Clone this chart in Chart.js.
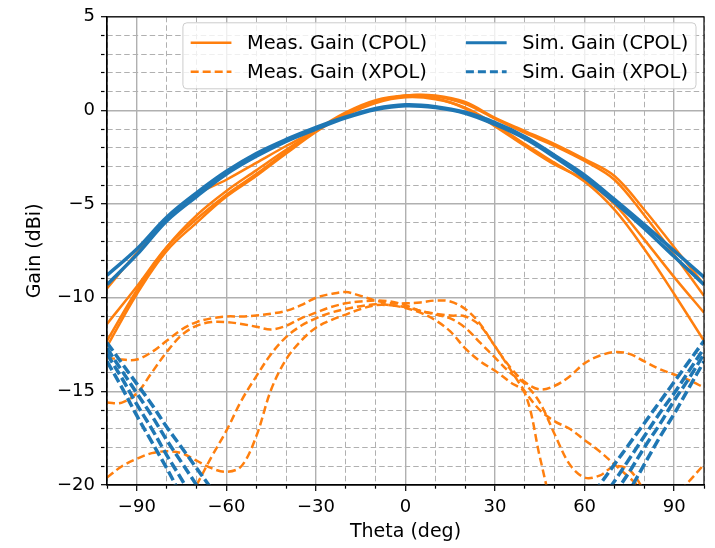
<!DOCTYPE html>
<html>
<head>
<meta charset="utf-8">
<script src="https://cdn.jsdelivr.net/npm/chart.js@4.4.1/dist/chart.umd.min.js"></script>
<style>
  html, body { margin: 0; padding: 0; background: #fff; }
  canvas { display: block; }
</style>
</head>
<body>
<canvas id="c" width="715" height="548"></canvas>
<script>
// ---- data
const THETA_10 = [-100, -90, -80, -70, -60, -50, -40, -30, -20, -10, 0, 10, 20, 30, 40, 50, 60, 70, 80, 90, 100];
const THETA_5 = [-100, -95, -90, -85, -80, -75, -70, -65, -60, -55, -50, -45, -40, -35, -30, -25, -20, -15, -10, -5,
                 0, 5, 10, 15, 20, 25, 30, 35, 40, 45, 50, 55, 60, 65, 70, 75, 80, 85, 90, 95, 100];
const SIMX_THETA_L = [-100, -95, -90, -85, -80, -75, -70, -65, -60];
const SIMX_THETA_R = [55, 60, 65, 70, 75, 80, 85, 90, 95, 100];

const X_TICKS = [-100, -90, -80, -70, -60, -50, -40, -30, -20, -10, 0, 10, 20, 30, 40, 50, 60, 70, 80, 90, 100];
const X_MAJOR = [-90, -60, -30, 0, 30, 60, 90];
const Y_TICKS = [-20, -19, -18, -17, -16, -15, -14, -13, -12, -11, -10, -9, -8, -7, -6, -5, -4, -3, -2, -1, 0, 1, 2, 3, 4, 5];
const Y_MAJOR = [-20, -15, -10, -5, 0, 5];

const NAMES = ["Meas. Gain (CPOL)", "Meas. Gain (XPOL)", "Sim. Gain (CPOL)", "Sim. Gain (XPOL)"];

// measured co-pol (THETA_10)
const MEAS_CPOL_1 = [-9.5, -7.6, -5.8, -4.5, -3.7, -2.8, -1.9, -1.05, -0.2, 0.45, 0.8, 0.8, 0.45, -0.4, -1.1, -1.8, -2.6, -3.5, -5.3, -7.3, -9.3];
const MEAS_CPOL_2 = [-11.4, -9.4, -7.3, -5.8, -4.5, -3.4, -2.2, -1.05, -0.1, 0.55, 0.8, 0.75, 0.35, -0.45, -1.2, -1.9, -2.7, -3.7, -5.6, -7.7, -9.9];
const MEAS_CPOL_3 = [-12.6, -9.8, -7.5, -6.0, -4.6, -3.5, -2.3, -1.15, -0.2, 0.5, 0.75, 0.65, 0.1, -0.85, -1.9, -2.9, -3.7, -5.0, -6.9, -8.9, -10.8];
const MEAS_CPOL_4 = [-12.3, -9.6, -7.3, -5.6, -4.3, -3.2, -2.1, -1.1, -0.25, 0.4, 0.7, 0.6, 0.15, -0.75, -1.8, -2.8, -3.8, -5.3, -7.4, -9.8, -12.3];

// simulated co-pol (THETA_10)
const SIM_CPOL_1 = [-8.8, -7.4, -5.7, -4.4, -3.25, -2.3, -1.55, -0.9, -0.35, 0.1, 0.3, 0.2, -0.1, -0.65, -1.4, -2.4, -3.45, -4.75, -6.1, -7.5, -8.9];
const SIM_CPOL_2 = [-9.3, -7.7, -5.9, -4.6, -3.4, -2.45, -1.65, -1.0, -0.4, 0.05, 0.25, 0.15, -0.15, -0.75, -1.5, -2.5, -3.6, -4.9, -6.3, -7.8, -9.3];

// measured cross-pol (THETA_5)
const MEAS_XPOL_1 = [-13.2, -13.3, -13.3, -12.9, -12.3, -11.7, -11.3, -11.1, -11.0, -11.0,
                     -10.95, -10.85, -10.7, -10.4, -10.0, -9.8, -9.7, -9.9, -10.15, -10.3,
                     -10.3, -10.25, -10.15, -10.2, -10.6, -11.4, -12.6, -13.7, -14.5, -14.9,
                     -14.7, -14.2, -13.5, -13.1, -12.9, -13.0, -13.4, -13.8, -14.1, -14.4, -14.8];
const MEAS_XPOL_2 = [-15.6, -15.6, -15.1, -14.0, -12.9, -12.0, -11.5, -11.3, -11.3, -11.4,
                     -11.55, -11.7, -11.5, -11.1, -10.8, -10.5, -10.3, -10.2, -10.15, -10.2,
                     -10.4, -10.7, -10.85, -10.95, -11.0, -11.5, -12.6, -13.8, -15.0, -16.0,
                     -16.6, -17.0, -17.6, -18.2, -18.9, -19.6, -20.3, -20.8, -20.6, -19.8, -18.9];
const MEAS_XPOL_3 = [-19.6, -19.0, -18.6, -18.3, -18.2, -18.3, -18.7, -19.1, -19.3, -19.0,
                     -17.4, -14.9, -13.3, -12.3, -11.6, -11.2, -10.9, -10.6, -10.4, -10.4,
                     -10.5, -10.7, -10.9, -11.1, -11.6, -12.4, -13.2, -14.0, -14.6, -15.6,
                     -17.3, -18.9, -19.6, -19.5, -19.0, -19.2, -20.3, -21.5, null, null, null];
const MEAS_XPOL_4 = [null, null, null, null, -22.8, -21.4, -20.0, -18.5, -17.1, -15.5,
                     -14.2, -13.0, -12.1, -11.5, -11.1, -10.8, -10.6, -10.45, -10.35, -10.4,
                     -10.55, -10.8, -11.2, -11.8, -12.7, -13.4, -13.9, -14.5, -15.1, -18.5,
                     -22.0, null, null, null, null, null, null, null, null, null, null];

// simulated cross-pol: left (SIMX_THETA_L) and right (SIMX_THETA_R) branches
const SIM_XPOL_1_L = [-12.4, -13.5, -14.6, -15.7, -16.9, -18.0, -19.1, -20.2, -21.3];
const SIM_XPOL_2_L = [-12.7, -13.9, -15.1, -16.3, -17.6, -18.8, -20.0, -21.2, -22.4];
const SIM_XPOL_3_L = [-13.0, -14.3, -15.7, -17.0, -18.4, -19.7, -21.1, -22.4, -23.8];
const SIM_XPOL_4_L = [-13.4, -14.8, -16.3, -17.7, -19.1, -20.6, -22.0, -23.4, -24.9];
const SIM_XPOL_1_R = [-22.2, -21.1, -20.0, -18.9, -17.8, -16.7, -15.6, -14.5, -13.4, -12.3];
const SIM_XPOL_2_R = [-23.2, -22.0, -20.9, -19.8, -18.6, -17.4, -16.2, -15.1, -13.9, -12.7];
const SIM_XPOL_3_R = [-24.3, -23.0, -21.8, -20.5, -19.3, -18.0, -16.8, -15.5, -14.3, -13.0];
const SIM_XPOL_4_R = [-25.8, -24.4, -23.0, -21.6, -20.3, -18.9, -17.5, -16.2, -14.8, -13.4];

// ---- style
const ORANGE = "#ff7f0e", BLUE = "#1f77b4";
const FONT = "'DejaVu Sans', sans-serif";
const GRID = "#b0b0b0";
const fmt = v => v < 0 ? "\u2212" + Math.abs(v) : String(v);
const pts = (xs, ys) => xs.map((x, i) => ({ x, y: ys[i] }));
const split = (xl, yl, xr, yr) => [...pts(xl, yl), { x: 0, y: null }, ...pts(xr, yr)];

const line = (data, color, width, dash, order) => ({
  data, borderColor: color, backgroundColor: color, borderWidth: width, borderDash: dash,
  pointRadius: 0, tension: 0.35, spanGaps: false, clip: 0, order,
});

const datasets = [
  ...[MEAS_CPOL_1, MEAS_CPOL_2, MEAS_CPOL_3, MEAS_CPOL_4].map(v => line(pts(THETA_10, v), ORANGE, 2.5, [], 3)),
  ...[MEAS_XPOL_1, MEAS_XPOL_2, MEAS_XPOL_3, MEAS_XPOL_4].map(v => line(pts(THETA_5, v), ORANGE, 2.5, [8, 4], 4)),
  ...[SIM_CPOL_1, SIM_CPOL_2].map(v => line(pts(THETA_10, v), BLUE, 3.5, [], 1)),
  ...[[SIM_XPOL_1_L, SIM_XPOL_1_R], [SIM_XPOL_2_L, SIM_XPOL_2_R], [SIM_XPOL_3_L, SIM_XPOL_3_R], [SIM_XPOL_4_L, SIM_XPOL_4_R]]
    .map(([l, r]) => line(split(SIMX_THETA_L, l, SIMX_THETA_R, r), BLUE, 3.5, [10, 4], 2)),
];

// legend laid out like matplotlib: two columns, upper right inside the axes
const LEG_COLS = [
  [{ label: NAMES[0], color: ORANGE, dash: [], width: 2.5 }, { label: NAMES[1], color: ORANGE, dash: [8, 4], width: 2.5 }],
  [{ label: NAMES[2], color: BLUE, dash: [], width: 3 }, { label: NAMES[3], color: BLUE, dash: [8, 4], width: 3 }],
];

const frameAndLegend = {
  id: "frameAndLegend",
  afterDatasetsDraw(chart) {
    const { ctx, chartArea: a } = chart;
    ctx.save();
    ctx.setLineDash([]);
    ctx.strokeStyle = "#000"; ctx.lineWidth = 1.2;
    ctx.strokeRect(a.left, a.top, a.right - a.left, a.bottom - a.top);

    const fs = 19.4;
    ctx.font = fs + "px " + FONT;
    const pad = 0.4 * fs, hl = 2.1 * fs, hp = 0.8 * fs, cs = 2 * fs, step = 29;
    const colW = col => hl + hp + Math.max(...col.map(it => ctx.measureText(it.label).width));
    const w = 2 * pad + colW(LEG_COLS[0]) + cs + colW(LEG_COLS[1]);
    const h = 66;
    const x0 = a.right - 8 - w, y0 = a.top + 6;
    ctx.beginPath(); ctx.roundRect(x0, y0, w, h, 4);
    ctx.fillStyle = "rgba(255,255,255,0.8)"; ctx.fill();
    ctx.strokeStyle = "#cccccc"; ctx.lineWidth = 1; ctx.stroke();

    let cx = x0 + pad;
    LEG_COLS.forEach(col => {
      col.forEach((it, r) => {
        const cy = y0 + 20 + r * step;
        ctx.beginPath(); ctx.setLineDash(it.dash);
        ctx.strokeStyle = it.color; ctx.lineWidth = it.width;
        ctx.moveTo(cx, cy); ctx.lineTo(cx + hl, cy); ctx.stroke();
        ctx.setLineDash([]);
        ctx.fillStyle = "#000"; ctx.textBaseline = "middle"; ctx.textAlign = "left";
        ctx.fillText(it.label, cx + hl + hp, cy + 1);
      });
      cx += colW(col) + cs;
    });
    ctx.restore();
  },
};

const axis = (ticks, major, size, title, titlePad) => ({
  type: "linear", min: ticks[0], max: ticks[ticks.length - 1],
  afterBuildTicks: s => { s.ticks = ticks.map(v => ({ value: v })); },
  ticks: { autoSkip: false, maxRotation: 0, color: "#000", font: { family: FONT, size: 18 },
           padding: 6, callback: v => major.includes(v) ? fmt(v) : "" },
  grid: { color: GRID, lineWidth: c => major.includes(c.tick && c.tick.value) ? 1.4 : 1,
          tickLength: 6, tickColor: "#000", tickWidth: 1.2,
          tickBorderDash: c => (c.tick && !major.includes(c.tick.value)) ? [3.5, 20] : [] },
  border: { color: "#000", width: 1.2,
            dash: c => (c.tick && !major.includes(c.tick.value)) ? [5.5, 3] : [] },
  title: { display: true, text: title, color: "#000", font: { family: FONT, size: 19 }, padding: titlePad },
  afterFit: size,
});

new Chart(document.getElementById("c"), {
  type: "line",
  data: { datasets },
  options: {
    responsive: false, animation: false, events: [],
    layout: { padding: { top: 13, right: 11, left: 0, bottom: 0 } },
    plugins: { legend: { display: false }, tooltip: { enabled: false } },
    scales: {
      x: axis(X_TICKS, X_MAJOR, s => { s.height = 63; }, "Theta (deg)", { top: 0, bottom: 5 }),
      y: axis(Y_TICKS, Y_MAJOR, s => { s.width = 107; }, "Gain (dBi)", { top: 24, bottom: 0 }),
    },
  },
  plugins: [frameAndLegend],
});
</script>
</body>
</html>
